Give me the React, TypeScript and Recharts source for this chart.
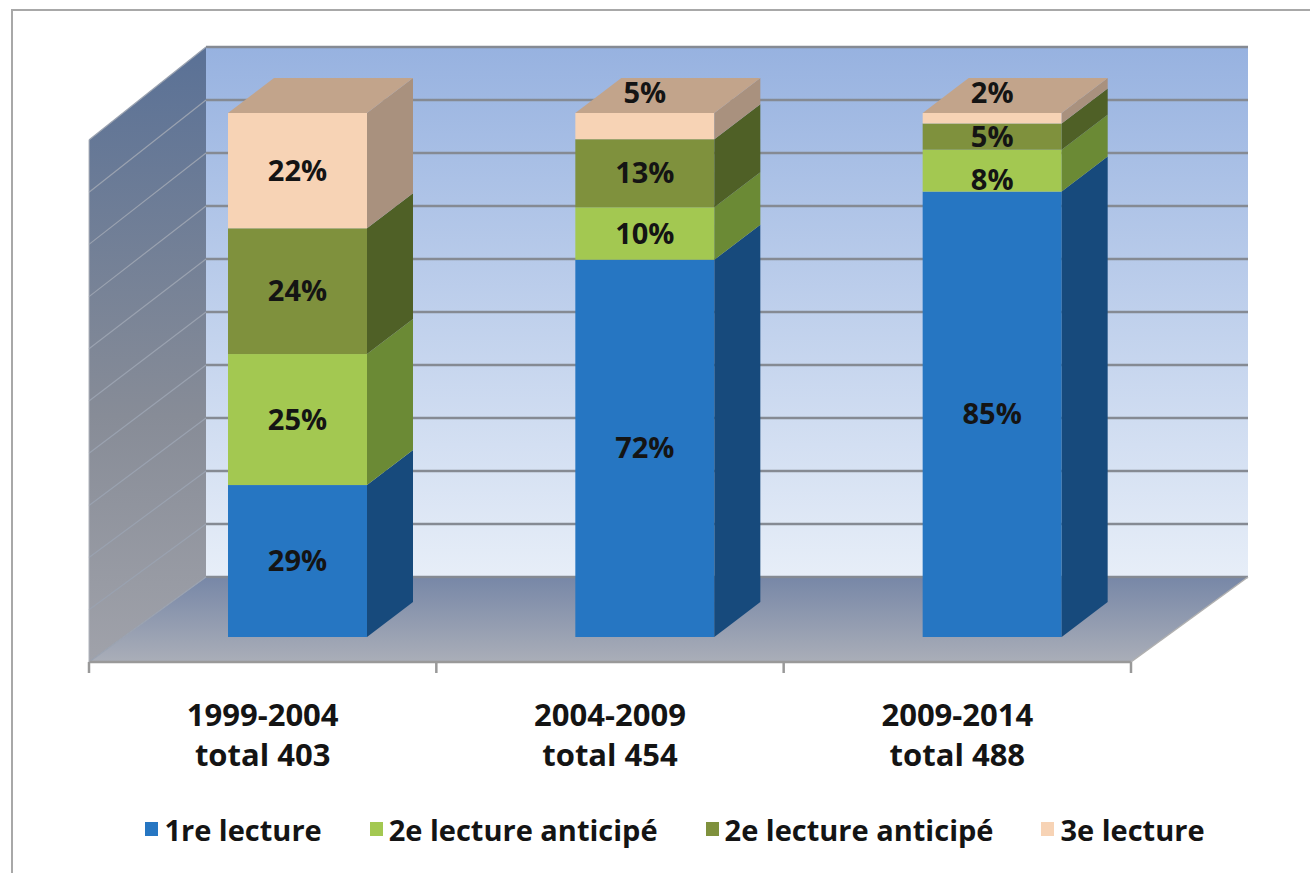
import { BarChart, Bar, XAxis, YAxis, Legend, LabelList, ReferenceArea } from 'recharts'

const CATEGORIES = ['1999-2004', '2004-2009', '2009-2014']
const TOTALS = [403, 454, 488]
const LECTURE_1 = [29, 72, 85]
const LECTURE_2A = [25, 10, 8]
const LECTURE_2B = [24, 13, 5]
const LECTURE_3 = [22, 5, 2]
const Y_TICKS = [0, 10, 20, 30, 40, 50, 60, 70, 80, 90, 100]

const SERIES = [
  { key: 'l1', name: '1re lecture', front: '#2676c2', side: '#174a7c' },
  { key: 'l2a', name: '2e lecture anticipé', front: '#a3c851', side: '#6b8a35' },
  { key: 'l2b', name: '2e lecture anticipé', front: '#7f913d', side: '#4f6026' },
  { key: 'l3', name: '3e lecture', front: '#f7d3b5', side: '#a9917e' },
]
const TOP_FACE = '#c2a48b'

const data = CATEGORIES.map((name, i) => ({
  name,
  total: TOTALS[i],
  l1: LECTURE_1[i],
  l2a: LECTURE_2A[i],
  l2b: LECTURE_2B[i],
  l3: LECTURE_3[i],
}))

// 3D offsets (px) relative to the plane of the bar fronts
const BAR_DX = 46
const BAR_DY = 35
const FRONT_X = 35
const FRONT_TOP = 27
const FRONT_BOTTOM = 25
const BACK_X = 82
const BACK_TOP = 66
const BACK_BOTTOM = 60

const FONT = '"Open Sans", "Noto Sans", sans-serif'

const lerp = (a: number, b: number, t: number) => a + (b - a) * t

function Walls(props: any) {
  const { x, y, width, height } = props
  const bottom = y + height
  const fx = x - FRONT_X
  const bx = x + BACK_X
  const frontTop = y + FRONT_TOP
  const frontBottom = bottom + FRONT_BOTTOM
  const backTop = y - BACK_TOP
  const backBottom = bottom - BACK_BOTTOM
  const bands = CATEGORIES.length
  return (
    <g>
      <defs>
        <linearGradient id="backWall" x1="0" y1="0" x2="0" y2="1">
          <stop offset="0" stopColor="#97b2e0" />
          <stop offset="1" stopColor="#e7eef8" />
        </linearGradient>
        <linearGradient id="sideWall" x1="0" y1="0" x2="0" y2="1">
          <stop offset="0" stopColor="#5a7196" />
          <stop offset="0.6" stopColor="#878c97" />
          <stop offset="1" stopColor="#a0a2aa" />
        </linearGradient>
        <linearGradient id="floor" x1="0" y1="0" x2="0" y2="1">
          <stop offset="0" stopColor="#7787a7" />
          <stop offset="1" stopColor="#aaaeb8" />
        </linearGradient>
      </defs>
      <rect x={bx} y={backTop} width={width} height={backBottom - backTop} fill="url(#backWall)" />
      <polygon
        points={`${fx},${frontTop} ${bx},${backTop} ${bx},${backBottom} ${fx},${frontBottom}`}
        fill="url(#sideWall)"
      />
      <polygon
        points={`${fx},${frontBottom} ${bx},${backBottom} ${bx + width},${backBottom} ${fx + width},${frontBottom}`}
        fill="url(#floor)"
      />
      {Y_TICKS.map((t) => {
        const k = t / 100
        const yb = lerp(backBottom, backTop, k)
        const yf = lerp(frontBottom, frontTop, k)
        return (
          <g key={t}>
            <line x1={bx} x2={bx + width} y1={yb} y2={yb} stroke="#858a93" strokeWidth={2.5} />
            <line x1={fx} y1={yf} x2={bx} y2={yb} stroke="#9aa2b0" strokeWidth={1.2} />
          </g>
        )
      })}
      <line x1={fx} x2={fx + width} y1={frontBottom} y2={frontBottom} stroke="#999" strokeWidth={2.5} />
      <line x1={fx + width} y1={frontBottom} x2={bx + width} y2={backBottom} stroke="#b0b0b0" strokeWidth={1.5} />
      <line x1={fx} y1={frontTop} x2={fx} y2={frontBottom} stroke="#b0b4bc" strokeWidth={1} />
      {Array.from({ length: bands + 1 }, (_, i) => (
        <line
          key={i}
          x1={fx + (i * width) / bands}
          x2={fx + (i * width) / bands}
          y1={frontBottom}
          y2={frontBottom + 11}
          stroke="#999"
          strokeWidth={2.5}
        />
      ))}
    </g>
  )
}

function Box(props: any) {
  const { x, y, width, height, front, side, isTop } = props
  if (!height || height <= 0) return null
  const r = x + width
  return (
    <g>
      <rect x={x} y={y} width={width} height={height} fill={front} />
      <polygon
        points={`${r},${y} ${r + BAR_DX},${y - BAR_DY} ${r + BAR_DX},${y + height - BAR_DY} ${r},${y + height}`}
        fill={side}
      />
      {isTop && (
        <polygon
          points={`${x},${y} ${x + BAR_DX},${y - BAR_DY} ${r + BAR_DX},${y - BAR_DY} ${r},${y}`}
          fill={TOP_FACE}
        />
      )}
    </g>
  )
}

function PctLabel(props: any) {
  const { x, y, width, height, value, isTop } = props
  const cx = x + width / 2
  let cy = y + height / 2
  if (isTop && height < 30) cy = y - BAR_DY / 2 - 3
  else if (height >= 30 && height < 50) cy = y + height - 12
  return (
    <text
      x={cx}
      y={cy}
      dy={10}
      textAnchor="middle"
      fontFamily={FONT}
      fontWeight={700}
      fontSize={29}
      fill="#141414"
    >
      {value}%
    </text>
  )
}

function CategoryTick(props: any) {
  const { x, y, payload } = props
  const row = data.find((d) => d.name === payload.value)
  return (
    <g transform={`translate(${x - FRONT_X},${y})`}>
      <text textAnchor="middle" y={89} fontFamily={FONT} fontWeight={700} fontSize={31} fill="#141414">
        {payload.value}
      </text>
      <text textAnchor="middle" y={129} fontFamily={FONT} fontWeight={700} fontSize={31} fill="#141414">
        total {row ? row.total : ''}
      </text>
    </g>
  )
}

function LegendContent(props: any) {
  const { payload } = props
  return (
    <div
      style={{
        display: 'flex',
        justifyContent: 'center',
        alignItems: 'center',
        gap: 48,
        height: 40,
        fontFamily: FONT,
        fontWeight: 700,
        fontSize: 29,
        color: '#141414',
      }}
    >
      {(payload || []).map((entry: any, i: number) => (
        <div key={i} style={{ display: 'flex', alignItems: 'center' }}>
          <span style={{ width: 13, height: 14, background: entry.color, marginRight: 6, display: 'inline-block' }} />
          <span>{entry.value}</span>
        </div>
      ))}
    </div>
  )
}

export default function App() {
  return (
    <div style={{ position: 'absolute', left: 0, top: 0, width: 1310, height: 873, overflow: 'hidden', background: '#fff' }}>
      <div
        style={{
          position: 'absolute',
          left: 11,
          top: 9,
          width: 1320,
          height: 900,
          border: '2px solid #a8a8a8',
          boxSizing: 'border-box',
        }}
      />
      <div style={{ position: 'absolute', left: 0, top: 0 }}>
        <BarChart
          width={1310}
          height={873}
          data={data}
          barSize={139}
          margin={{ top: 113, right: 144, left: 124, bottom: 24 }}
        >
          <XAxis
            dataKey="name"
            axisLine={false}
            tickLine={false}
            tickSize={0}
            tickMargin={0}
            height={172}
            interval={0}
            tick={<CategoryTick />}
          />
          <YAxis hide domain={[0, 100]} ticks={Y_TICKS} />
          <ReferenceArea y1={0} y2={100} ifOverflow="visible" shape={<Walls />} />
          {SERIES.map((s) => (
            <Bar
              key={s.key}
              dataKey={s.key}
              name={s.name}
              stackId="a"
              fill={s.front}
              isAnimationActive={false}
              shape={(p: any) => <Box {...p} front={s.front} side={s.side} isTop={s.key === 'l3'} />}
            >
              <LabelList
                dataKey={s.key}
                content={(p: any) => <PctLabel {...p} isTop={s.key === 'l3'} />}
              />
            </Bar>
          ))}
          <Legend
            verticalAlign="bottom"
            content={<LegendContent />}
            wrapperStyle={{ left: 20, width: 1310 }}
          />
        </BarChart>
      </div>
    </div>
  )
}
